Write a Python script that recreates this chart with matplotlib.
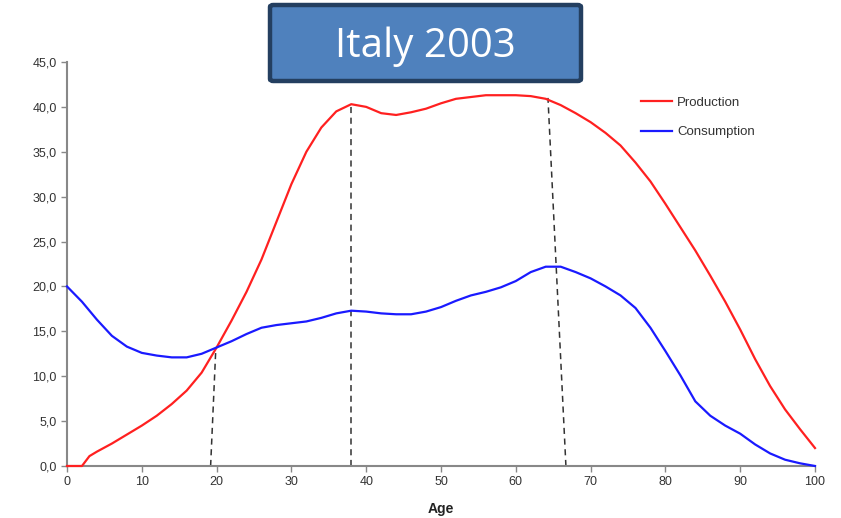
import matplotlib.pyplot as plt
from matplotlib.patches import FancyBboxPatch
from matplotlib.ticker import FuncFormatter

# Italy 2003 - per capita production and consumption by age
ages = [0, 2, 3, 4, 6, 8, 10, 12, 14, 16, 18, 20, 22, 24, 26, 28, 30, 32, 34, 36, 38,
        40, 42, 44, 46, 48, 50, 52, 54, 56, 58, 60, 62, 64, 66, 68, 70, 72, 74, 76, 78,
        80, 82, 84, 86, 88, 90, 92, 94, 96, 98, 100]
production = [0.0, 0.0, 1.1, 1.6, 2.5, 3.5, 4.5, 5.6, 6.9, 8.4, 10.4, 13.2, 16.2, 19.4, 23.0,
              27.2, 31.4, 35.0, 37.7, 39.5, 40.3, 40.0, 39.3, 39.1, 39.4, 39.8, 40.4, 40.9,
              41.1, 41.3, 41.3, 41.3, 41.2, 40.9, 40.2, 39.3, 38.3, 37.1, 35.7, 33.8, 31.7,
              29.2, 26.6, 24.0, 21.2, 18.3, 15.2, 11.9, 8.9, 6.3, 4.1, 2.0]
consumption = [20.0, 18.3, 17.3, 16.3, 14.5, 13.3, 12.6, 12.3, 12.1, 12.1, 12.5, 13.2, 13.9,
               14.7, 15.4, 15.7, 15.9, 16.1, 16.5, 17.0, 17.3, 17.2, 17.0, 16.9, 16.9, 17.2,
               17.7, 18.4, 19.0, 19.4, 19.9, 20.6, 21.6, 22.2, 22.2, 21.6, 20.9, 20.0, 19.0,
               17.6, 15.4, 12.8, 10.1, 7.2, 5.6, 4.5, 3.6, 2.4, 1.4, 0.7, 0.3, 0.0]

# dashed guide lines: (age at axis, age at curve, value at curve)
guide_bottom = [19.2, 38.0, 66.7]
guide_top = [19.9, 38.0, 64.3]
guide_value = [13.2, 40.3, 41.0]

plt.rcParams['font.family'] = ['Liberation Sans', 'DejaVu Sans']

fig = plt.figure(figsize=(8.41, 5.18), dpi=100)
ax = fig.add_axes([67 / 841, 1 - 466 / 518, 748 / 841, 404 / 518])

ax.plot(ages, production, color="#ff2020", lw=1.6, label="Production",
        clip_on=False, zorder=4)
ax.plot(ages, consumption, color="#1a1aff", lw=1.6, label="Consumption",
        clip_on=False, zorder=4)

for xb, xt, yt in zip(guide_bottom, guide_top, guide_value):
    ax.plot([xb, xt], [0, yt], color="#333333", lw=1.1, ls=(0, (4, 3)), zorder=1)

ax.set_xlim(0, 100)
ax.set_ylim(0, 45)
ax.set_xticks(range(0, 101, 10))
ax.set_yticks([0, 5, 10, 15, 20, 25, 30, 35, 40, 45])
ax.yaxis.set_major_formatter(FuncFormatter(lambda v, p: f"{v:.1f}".replace(".", ",")))

for s in ["top", "right"]:
    ax.spines[s].set_visible(False)
for s in ["left", "bottom"]:
    ax.spines[s].set_color("#888888")
    ax.spines[s].set_linewidth(1.5)
ax.tick_params(colors="#888888", length=4, width=1, labelsize=9, labelcolor="#333333")
ax.set_xlabel("Age", fontsize=10, fontweight="bold", color="#222222", labelpad=10)

leg = ax.legend(loc="upper left", bbox_to_anchor=(634 / 841, 1 - 90 / 518),
                bbox_transform=fig.transFigure, frameon=False, fontsize=9.5,
                handlelength=2.4, handletextpad=0.35, labelspacing=1.3, borderpad=0)
for t in leg.get_texts():
    t.set_color("#333333")

# title box
box = FancyBboxPatch((270 / 841, 1 - 81 / 518), 311 / 841, 76 / 518,
                     boxstyle="round,pad=0,rounding_size=0.004",
                     transform=fig.transFigure, facecolor="#4f81bd",
                     edgecolor="#243f60", lw=3.2, zorder=5)
fig.patches.append(box)
fig.text(425 / 841, 1 - 47 / 518, "Italy 2003", ha="center", va="center",
         fontsize=29, color="white", family="Open Sans", zorder=6)

plt.savefig("out.png", dpi=100)
